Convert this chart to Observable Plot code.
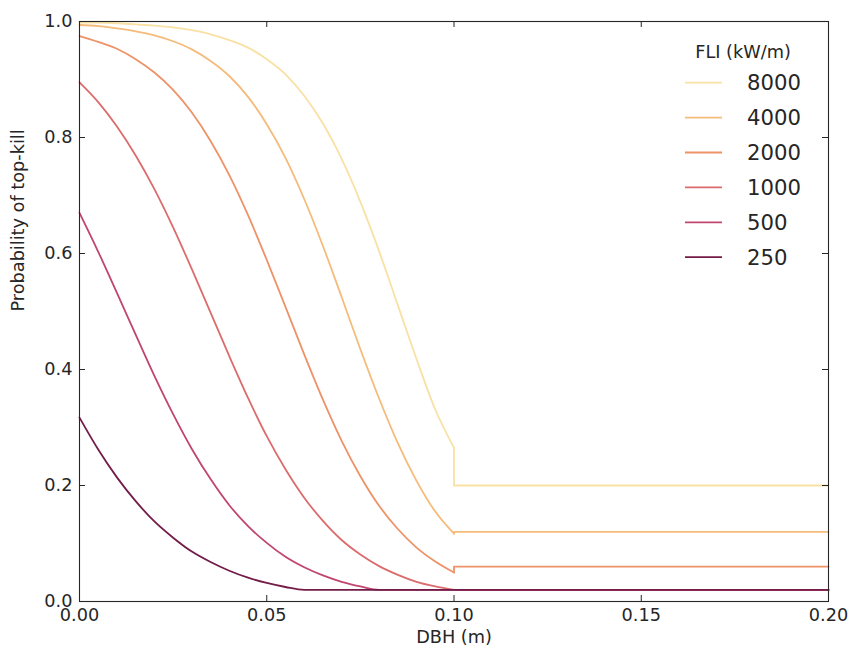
<!DOCTYPE html>
<html>
<head>
<meta charset="utf-8">
<script src="https://cdn.jsdelivr.net/npm/d3@7"></script>
<script src="https://cdn.jsdelivr.net/npm/@observablehq/plot@0.6"></script>
<style>
  body { margin: 0; background: #fff; }
  #chart { width: 849px; height: 650px; }
</style>
</head>
<body>
<div id="chart"></div>
<script>
// Stem diameter (m) at which the top-kill probability is evaluated
const dbh = [0, 0.005, 0.01, 0.015, 0.02, 0.025, 0.03, 0.035, 0.04, 0.045, 0.05,
             0.055, 0.06, 0.065, 0.07, 0.075, 0.08, 0.085, 0.09, 0.095, 0.1];

// Fireline intensity classes (kW/m)
const fli = [8000, 4000, 2000, 1000, 500, 250];

// Probability of top-kill for each intensity, below the 0.10 m threshold
const p8000 = [0.998, 0.998, 0.997, 0.995, 0.993, 0.990, 0.985, 0.978, 0.968, 0.955, 0.935,
               0.909, 0.872, 0.824, 0.763, 0.689, 0.604, 0.511, 0.418, 0.331, 0.265];
const p4000 = [0.994, 0.992, 0.988, 0.983, 0.976, 0.966, 0.952, 0.932, 0.906, 0.870, 0.823,
               0.765, 0.694, 0.613, 0.525, 0.435, 0.350, 0.273, 0.208, 0.155, 0.117];
const p2000 = [0.975, 0.965, 0.953, 0.935, 0.912, 0.882, 0.843, 0.794, 0.735, 0.666, 0.589,
               0.508, 0.426, 0.348, 0.277, 0.216, 0.165, 0.125, 0.093, 0.069, 0.050];
const p1000 = [0.895, 0.861, 0.819, 0.769, 0.711, 0.645, 0.573, 0.498, 0.423, 0.351, 0.285,
               0.228, 0.179, 0.139, 0.106, 0.081, 0.061, 0.046, 0.034, 0.026, 0.020];
const p500  = [0.670, 0.603, 0.532, 0.460, 0.389, 0.323, 0.263, 0.211, 0.166, 0.130, 0.101,
               0.077, 0.059, 0.045, 0.034, 0.026, 0.020, 0.020, 0.020, 0.020, 0.020];
const p250  = [0.317, 0.262, 0.214, 0.173, 0.138, 0.110, 0.086, 0.068, 0.053, 0.041, 0.032,
               0.025, 0.020, 0.020, 0.020, 0.020, 0.020, 0.020, 0.020, 0.020, 0.020];

// Constant probability for stems above the threshold
const thresholdDbh = 0.1;
const maxDbh = 0.2;
const tailLevel = [0.20, 0.12, 0.06, 0.02, 0.02, 0.02];

const series = [p8000, p4000, p2000, p1000, p500, p250];
const colors = ["#f9e1a4", "#f5bb7b", "#ee9267", "#dc6b6d", "#c0456f", "#731c48"];

const xTicks = [0, 0.05, 0.1, 0.15, 0.2];
const yTicks = [0, 0.2, 0.4, 0.6, 0.8, 1.0];
const xLabel = "DBH (m)";
const yLabel = "Probability of top-kill";
const legendTitle = "FLI (kW/m)";

// Rows for the smooth part of every curve and for the step + plateau after it
const curveRows = fli.flatMap((f, i) => dbh.map((d, j) => ({fli: f, dbh: d, p: series[i][j]})));
const tailRows = fli.flatMap((f, i) => [
  {fli: f, dbh: thresholdDbh, p: series[i][series[i].length - 1]},
  {fli: f, dbh: thresholdDbh, p: tailLevel[i]},
  {fli: f, dbh: maxDbh, p: tailLevel[i]}
]);

const W = 849, H = 650;
const mL = 79, mR = 21, mT = 21, mB = 49;
const innerW = W - mL - mR, innerH = H - mT - mB;
const tickLen = 6;
const ink = "#262626";

const chart = Plot.plot({
  width: W,
  height: H,
  marginLeft: mL,
  marginRight: mR,
  marginTop: mT,
  marginBottom: mB,
  style: {fontFamily: "DejaVu Sans", fontSize: "17.7px", color: ink, background: "#fff"},
  x: {domain: [0, maxDbh]},
  y: {domain: [0, 1]},
  color: {type: "ordinal", domain: fli, range: colors},
  marks: [
    Plot.line(curveRows, {x: "dbh", y: "p", z: "fli", stroke: "fli", curve: "monotone-x", strokeWidth: 1.8}),
    Plot.line(tailRows, {x: "dbh", y: "p", z: "fli", stroke: "fli", strokeWidth: 1.8}),
    Plot.frame({stroke: ink, strokeWidth: 1.1}),
    // inward ticks on all four sides
    Plot.tickX(xTicks, {x: d => d, stroke: ink, insetTop: innerH - tickLen}),
    Plot.tickX(xTicks, {x: d => d, stroke: ink, insetBottom: innerH - tickLen}),
    Plot.tickY(yTicks, {y: d => d, stroke: ink, insetRight: innerW - tickLen}),
    Plot.tickY(yTicks, {y: d => d, stroke: ink, insetLeft: innerW - tickLen}),
    Plot.axisX(xTicks, {tickSize: 0, tickPadding: 7, tickFormat: d3.format(".2f"), label: null, fill: ink}),
    Plot.axisY(yTicks, {tickSize: 0, tickPadding: 7, tickFormat: d3.format(".1f"), label: null, fill: ink}),
    Plot.text([xLabel], {text: d => d, frameAnchor: "bottom", dy: 41, fill: ink}),
    Plot.text([yLabel], {text: d => d, frameAnchor: "left", dx: -61, rotate: -90, fill: ink})
  ]
});

// Legend in the upper right corner of the axes
const svg = d3.select(chart);
const lg = svg.append("g").attr("font-family", "DejaVu Sans").attr("fill", ink);
lg.append("text")
  .attr("x", 743).attr("y", 52).attr("dy", "0.36em")
  .attr("text-anchor", "middle").attr("font-size", 17.7)
  .text(legendTitle);
fli.forEach((f, i) => {
  const y = 82.7 + i * 34.9;
  lg.append("line")
    .attr("x1", 685).attr("x2", 722).attr("y1", y).attr("y2", y)
    .attr("stroke", colors[i]).attr("stroke-width", 1.8);
  lg.append("text")
    .attr("x", 747).attr("y", y).attr("dy", "0.36em")
    .attr("text-anchor", "start").attr("font-size", 21.2)
    .text(f);
});

document.getElementById("chart").appendChild(chart);
</script>
</body>
</html>
